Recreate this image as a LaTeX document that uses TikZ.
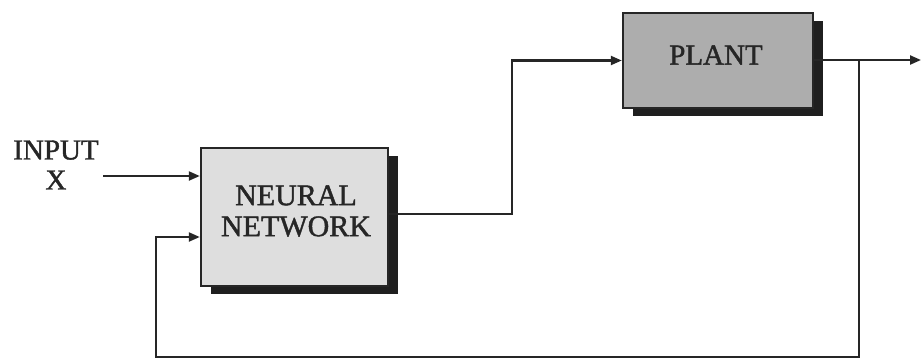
\documentclass[tikz,border=0pt]{standalone}
\usepackage{fontspec}
\setmainfont{Liberation Serif}
\newfontfamily\lbl{Liberation Serif}[FakeBold=1.4]
\usetikzlibrary{arrows.meta,shadows}
\begin{document}
\begin{tikzpicture}[x=1pt,y=-1pt,
  wire/.style={line width=2.2pt,black!85},
  flow/.style={wire,-{Triangle[length=11pt,width=9pt]}},
  block/.style={draw=black!85,line width=2.4pt,rectangle,inner sep=0pt,
    drop shadow={shadow xshift=10pt,shadow yshift=-8pt,fill=black!88,opacity=1}},
  label/.style={font=\lbl\fontsize{29}{30}\selectfont,text=black!85,align=center,inner sep=0pt}]
\useasboundingbox (0,0) rectangle (921,362);

% blocks
\node[block,fill=black!13,minimum width=187pt,minimum height=138pt]
  (nn) at (294.5,217) {};
\node[label,font=\lbl\fontsize{30}{31}\selectfont] (nntext) at (296,211) {NEURAL\\NETWORK};
\node[block,fill=black!32,minimum width=190pt,minimum height=95pt]
  (plant) at (718,60.5) {};
\node[label] (planttext) at (716,55) {PLANT};
\node[label] (in) at (56,165) {INPUT\\X};

% free ends and corner points
\coordinate (xs) at (103,176);
\coordinate (out) at (921,60);
\coordinate (tap) at (859,60);
\coordinate (bus) at (512,214);
\coordinate (fbL) at (156,357);
\coordinate (fbR) at (859,357);

% input to the network
\draw[flow] (xs) -- (xs -| nn.west);
% network to plant
\draw[flow] (nn.east |- bus) -- (bus) |- (plant.west);
% plant output
\draw[flow] (plant.east |- out) -- (out);
% feedback path
\draw[flow] (tap) -- (fbR) -- (fbL) |- ([yshift=-20pt]nn.west);
\end{tikzpicture}
\end{document}
